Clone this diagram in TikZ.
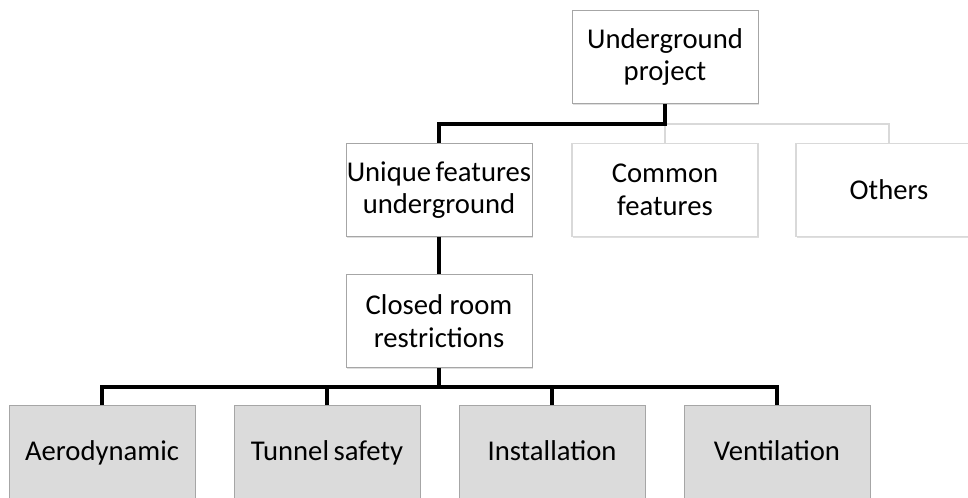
\documentclass[tikz,border=0pt]{standalone}
\usepackage{fontspec}
\setmainfont{Carlito}
\usetikzlibrary{shadows, calc, positioning}

\tikzset{
    box/.style = {draw=gray!70, fill=white, minimum width=186*0.75pt, minimum height=93*0.75pt,
        align=center, inner xsep=0pt, inner ysep=2pt, drop shadow={shadow xshift=1pt, shadow yshift=-1pt, opacity=0.25}},
    faintbox/.style = {box, draw=gray!30, line width=1.2pt, drop shadow={opacity=0}},
    leafbox/.style = {box, fill=gray!28, text height=3.2ex, text depth=0.5ex},
    link/.style = {draw=black, line width=2.4pt},
    faintlink/.style = {draw=gray!30, line width=1.1pt}
}

\begin{document}
\begin{tikzpicture}[x=0.75pt, y=-0.75pt]
    \useasboundingbox (0,0) rectangle (968,497);
    \begin{scope}[every node/.style = {font=\fontsize{21.5}{24.5}\selectfont}]
        \node[box] (Top) at (665,57) {Underground\\project};
        \node[box] (Unique) at (439,190) {Unique\hspace{-1.5pt} features\\underground};
        \node[faintbox] (Common) at (665,190) {Common\\features};
        \node[faintbox] (Others) at (889,190) {Others};
        \node[box] (Closed) at (439,321) {Closed room\\restrictions};
        \node[leafbox] (Aero) at (102,452) {Aerodynamic};
        \node[leafbox] (Safety) at (327,452) {Tunnel\hspace{-1.5pt} safety};
        \node[leafbox] (Install) at (552,452) {Installation};
        \node[leafbox] (Vent) at (777,452) {Ventilation};
        \coordinate (tj) at (665,124);
        \coordinate (bj) at (439,387);
        \draw[faintlink] (tj) -- (Common.north);
        \draw[faintlink] (tj) -| (Others.north);
        \draw[link] (Top.south) -- (tj) -| (Unique.north);
        \draw[link] (Unique.south) -- (Closed.north);
        \draw[link] (Closed.south) -- (bj);
        \draw[link] (Aero.north) |- (bj) -| (Vent.north);
        \foreach \n in {Safety, Install}{
            \draw[link] (\n.north) -- (\n.north |- bj);
        }
    \end{scope}
\end{tikzpicture}
\end{document}
